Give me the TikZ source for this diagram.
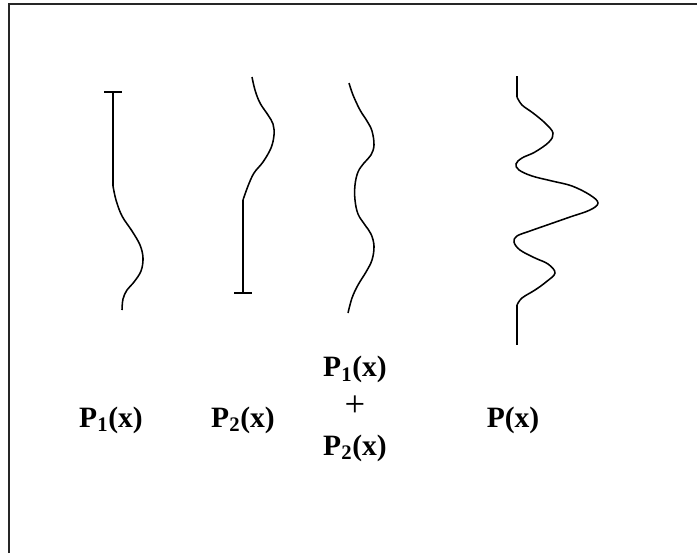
\documentclass[tikz,border=0pt]{standalone}
\usepackage{fontspec}
\setmainfont{Liberation Serif}
\begin{document}
\begin{tikzpicture}[x=0.025cm,y=-0.025cm,
  wave/.style={line width=1.1pt,smooth,tension=0.6},
  lab/.style={font=\fontsize{21}{21}\selectfont\bfseries,align=center}]
\useasboundingbox (0,0) rectangle (697,553);
\draw[line width=1.1pt,black!85] (9,553) -- (9,4) -- (697,4);

% P1
\draw[line width=1.1pt] (104,92) -- (122,92);
\draw[line width=1.1pt] (113,92) -- (113,186);
\draw[wave] plot coordinates {(113,186) (116,200) (122,216) (132,231) (140,245) (143,258) (141,271) (134,282) (127,290) (123,299) (122,310)};

% P2
\draw[line width=1.1pt] (234,293) -- (252,293);
\draw[line width=1.1pt] (243,200) -- (243,293);
\draw[wave] plot coordinates {(252,77) (255,90) (260,103) (268,115) (273,124) (274,135) (271,148) (263,162) (254,173) (248,186) (243,200)};

% P1 + P2
\draw[wave] plot coordinates {(349,83) (353,95) (360,110) (367,121) (372,131) (374,145) (371,155) (364,163) (358,172) (355,185) (355,200) (358,214) (365,225) (371,234) (374,246) (372,260) (366,272) (358,285) (352,298) (348,313)};

% P
\draw[line width=1.1pt] (517,76) -- (517,97);
\draw[wave] plot coordinates {(517,97) (522,105) (533,113) (545,123) (553,133) (549,142) (535,152) (522,158) (516,164) (519,170) (532,176) (552,181) (572,186) (590,195) (598,203) (590,210) (570,217) (550,224) (530,231) (517,236) (514,242) (520,250) (535,258) (548,264) (555,273) (546,282) (535,290) (522,298) (517,305)};
\draw[line width=1.1pt] (517,305) -- (517,345);

\node[lab] (p1) at (111,420) {P\textsubscript{1}(x)};
\node[lab] (p2) at (243,420) {P\textsubscript{2}(x)};
\node[lab,font=\fontsize{21}{28}\selectfont\bfseries] (sum) at (355,409) {P\textsubscript{1}(x)\\{\fontsize{26}{28}\selectfont\mdseries+}\\P\textsubscript{2}(x)};
\node[lab] (p) at (513,420) {P(x)};
\end{tikzpicture}
\end{document}
